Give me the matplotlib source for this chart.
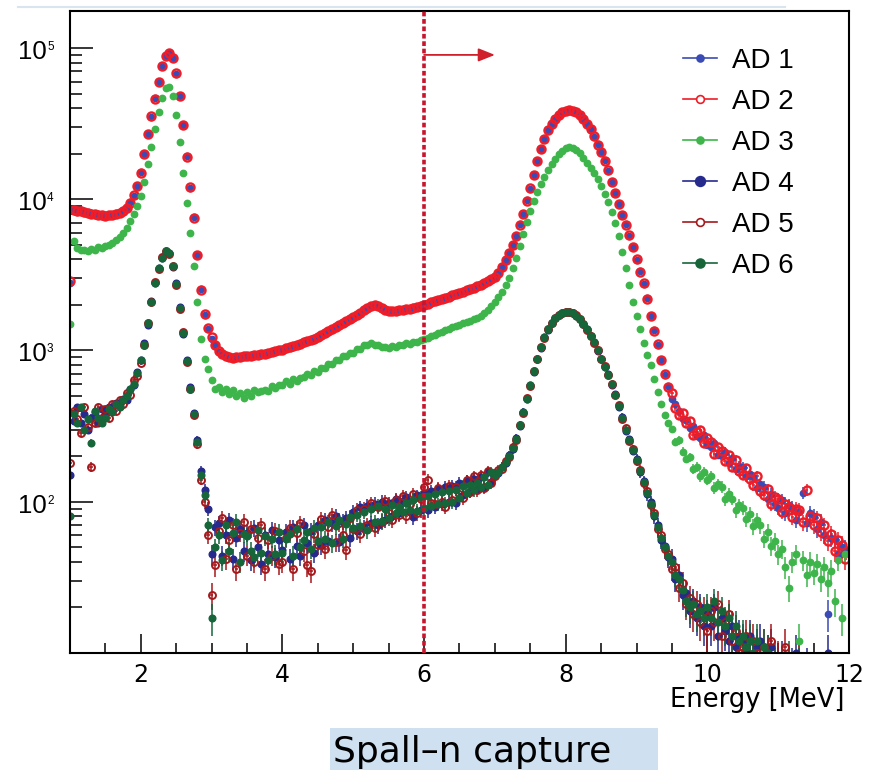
import numpy as np
import matplotlib
matplotlib.use("Agg")
import matplotlib.pyplot as plt
import matplotlib.transforms as mtransforms
from matplotlib.lines import Line2D
from matplotlib.patches import Rectangle
from matplotlib.ticker import FixedLocator, MultipleLocator, LogLocator, NullFormatter

# 0.05 MeV bins from 1 to 12 MeV
bin_width = 0.05
energy = np.round(1.0 + bin_width * np.arange(220), 3)

# counts per bin, one row per 0.5 MeV
ad1 = [
    2800, 8600, 8250, 8480, 8120, 8200, 8060, 7900, 7960, 7800,
    7760, 7900, 7870, 8050, 8100, 8450, 8750, 9550, 10500, 12300,
    15200, 19800, 27200, 35000, 46500, 59500, 76500, 88500, 92500, 86500,
    67500, 48500, 30800, 19200, 11900, 7600, 4250, 2550, 1720, 1380,
    1200, 1090, 980, 950, 915, 910, 890, 905, 900, 920,
    915, 930, 930, 945, 945, 960, 960, 980, 980, 1005,
    1010, 1040, 1045, 1075, 1085, 1115, 1125, 1155, 1170, 1205,
    1225, 1265, 1295, 1345, 1375, 1425, 1465, 1525, 1565, 1625,
    1665, 1725, 1775, 1855, 1915, 1975, 1985, 1965, 1895, 1865,
    1825, 1825, 1825, 1845, 1845, 1875, 1885, 1925, 1945, 1985,
    2005, 2045, 2075, 2115, 2145, 2195, 2225, 2275, 2305, 2355,
    2395, 2455, 2495, 2555, 2595, 2665, 2715, 2795, 2865, 2965,
    3040, 3260, 3540, 3960, 4390, 5010, 5690, 6810, 7990, 9810,
    11750, 14550, 17950, 21550, 24950, 28550, 31450, 34050, 35950, 37550,
    38450, 39050, 38450, 37550, 35950, 34050, 31450, 29050, 25950, 23050,
    20450, 18050, 15450, 13050, 10950, 9350, 7850, 6850, 5750, 4850,
    3960, 3340, 2770, 2230, 1680, 1370, 1090, 870, 690, 580,
    478, 442, 401, 352, 349, 305, 315, 273, 262, 277,
    238, 231, 244, 205, 202, 214, 180, 194, 164, 172,
    170, 147, 153, 146, 124, 131, 125, 104, 113, 96,
    91, 103, 84, 95, 91, 76, 86, 115, 72, 84,
    81, 66, 74, 60, 18, 58, 57, 45, 50, 49,
]
ad2 = [
    2900, 8500, 8350, 8400, 8200, 8150, 8000, 7950, 7900, 7850,
    7800, 7850, 7900, 8000, 8150, 8400, 8800, 9500, 10600, 12200,
    15000, 20000, 27000, 35500, 46000, 60000, 76000, 89000, 93000, 86000,
    68000, 48000, 31000, 19000, 12000, 7500, 4300, 2500, 1750, 1400,
    1220, 1080, 990, 945, 920, 905, 895, 900, 905, 915,
    920, 925, 935, 940, 950, 955, 965, 975, 985, 1000,
    1015, 1035, 1050, 1070, 1090, 1110, 1130, 1150, 1175, 1200,
    1230, 1260, 1300, 1340, 1380, 1420, 1470, 1520, 1570, 1620,
    1670, 1720, 1780, 1850, 1920, 1970, 1990, 1960, 1900, 1860,
    1830, 1820, 1830, 1840, 1850, 1870, 1890, 1920, 1950, 1980,
    2010, 2040, 2080, 2110, 2150, 2190, 2230, 2270, 2310, 2350,
    2400, 2450, 2500, 2550, 2600, 2660, 2720, 2790, 2870, 2960,
    3050, 3250, 3550, 3950, 4400, 5000, 5700, 6800, 8000, 9800,
    11800, 14500, 18000, 21500, 25000, 28500, 31500, 34000, 36000, 37500,
    38500, 39000, 38500, 37500, 36000, 34000, 31500, 29000, 26000, 23000,
    20500, 18000, 15500, 13000, 11000, 9300, 7900, 6800, 5800, 4800,
    4000, 3300, 2800, 2200, 1700, 1350, 1100, 860, 700, 570,
    520, 418, 372, 388, 331, 341, 276, 291, 296, 243,
    262, 247, 208, 230, 215, 186, 203, 171, 189, 160,
    151, 166, 141, 129, 148, 118, 111, 121, 97, 108,
    104, 86, 97, 93, 79, 90, 88, 73, 120, 80,
    70, 78, 63, 70, 55, 61, 47, 56, 52, 42,
]
ad3 = [
    1500, 5300, 4750, 4600, 4650, 4550, 4700, 4650, 4800, 4750,
    4900, 5000, 5150, 5350, 5600, 6000, 6500, 7200, 8000, 9000,
    10500, 13000, 17000, 22000, 29000, 38000, 47000, 54000, 55000, 48000,
    36000, 24000, 15000, 9500, 6000, 3600, 2100, 1200, 880, 750,
    640, 560, 572, 528, 556, 512, 548, 498, 526, 488,
    531, 497, 544, 528, 541, 552, 538, 581, 566, 588,
    588, 627, 598, 648, 632, 655, 664, 703, 688, 731,
    722, 771, 768, 812, 811, 866, 860, 913, 921, 968,
    968, 1025, 1030, 1085, 1090, 1122, 1092, 1088, 1048, 1062,
    1040, 1072, 1062, 1091, 1085, 1117, 1110, 1146, 1141, 1178,
    1190, 1210, 1240, 1270, 1300, 1330, 1360, 1390, 1420, 1450,
    1480, 1510, 1540, 1570, 1610, 1650, 1700, 1770, 1850, 1960,
    2100, 2250, 2450, 2700, 3000, 3500, 4100, 4900, 5900, 7100,
    8300, 9700, 11200, 12600, 14000, 15500, 17000, 18500, 19800, 20900,
    21700, 22100, 21900, 21200, 20100, 18800, 17400, 16200, 15000, 13700,
    12300, 10900, 9600, 8200, 7000, 5700, 4500, 3500, 2700, 2100,
    1700, 1380, 1120, 940, 800, 650, 530, 440, 375, 330,
    301, 249, 255, 214, 193, 197, 165, 170, 148, 158,
    140, 148, 124, 131, 125, 104, 113, 105, 88, 95,
    91, 77, 83, 69, 76, 70, 57, 63, 51, 55,
    45, 49, 37, 27, 40, 45, 12, 41, 33, 40,
    34, 39, 31, 37, 29, 35, 22, 41, 17, 45,
]
ad4 = [
    150, 340, 420, 330, 380, 300, 360, 390, 330, 410,
    380, 420, 400, 450, 430, 480, 470, 560, 590, 720,
    860, 1120, 1480, 2120, 2780, 3520, 4080, 4480, 4420, 3580,
    2780, 1930, 1290, 860, 570, 385, 255, 160, 120, 90,
    45, 68, 72, 44, 60, 76, 42, 58, 66, 47,
    62, 41, 67, 50, 39, 60, 45, 65, 43, 56,
    48, 63, 42, 68, 51, 44, 70, 53, 64, 46,
    70, 52, 76, 55, 72, 80, 54, 74, 78, 58,
    86, 64, 92, 68, 94, 72, 97, 70, 100, 76,
    98, 80, 104, 84, 101, 108, 86, 79, 110, 88,
    115, 88, 118, 92, 122, 97, 126, 100, 128, 98,
    134, 110, 138, 116, 142, 121, 146, 125, 158, 136,
    152, 156, 171, 180, 203, 222, 263, 316, 394, 476,
    595, 725, 885, 1045, 1225, 1375, 1525, 1635, 1725, 1765,
    1805, 1795, 1775, 1695, 1615, 1495, 1385, 1245, 1135, 995,
    885, 775, 695, 595, 515, 425, 365, 295, 258, 217,
    193, 157, 137, 112, 99, 80, 70, 56, 51, 43,
    42, 31, 33, 24, 25, 19, 22, 17, 20, 15,
    18, 15, 20, 13, 17, 14, 12, 15, 11, 13,
    12, 10, 13, 9, 11, 12, 8, 10, 11, 7,
    8, 9, 7, 6, 8, 10, 7, 5, 8, 6,
    5, 7, 4, 6, 10, 5, 4, 6, 5, 4,
]
ad5 = [
    180, 400, 350, 285, 420, 310, 170, 330, 420, 360,
    410, 360, 440, 400, 470, 440, 520, 510, 640, 680,
    830, 1090, 1530, 2080, 2830, 3470, 4130, 4530, 4370, 3630,
    2720, 1880, 1320, 840, 555, 372, 240, 140, 100, 60,
    24, 38, 64, 78, 42, 56, 70, 36, 62, 74,
    44, 66, 40, 58, 70, 36, 56, 44, 64, 39,
    40, 58, 67, 36, 62, 72, 47, 38, 35, 61,
    52, 77, 49, 68, 82, 54, 72, 60, 48, 78,
    66, 88, 61, 90, 70, 98, 67, 92, 74, 101,
    84, 76, 103, 82, 109, 80, 96, 112, 84, 104,
    125, 140, 98, 96, 124, 99, 93, 127, 102, 126,
    112, 106, 139, 116, 147, 119, 151, 124, 160, 133,
    148, 161, 165, 185, 197, 229, 256, 324, 386, 485,
    585, 735, 875, 1055, 1215, 1385, 1515, 1645, 1715, 1775,
    1795, 1805, 1765, 1705, 1605, 1505, 1375, 1255, 1125, 1005,
    875, 785, 685, 605, 505, 435, 355, 305, 252, 223,
    187, 163, 133, 118, 95, 84, 66, 60, 49, 45,
    36, 37, 27, 29, 21, 23, 18, 21, 16, 19,
    14, 19, 16, 21, 13, 16, 18, 12, 14, 10,
    11, 13, 9, 12, 10, 8, 11, 9, 12, 8,
    9, 7, 11, 8, 6, 7, 9, 6, 7, 5,
    6, 4, 5, 7, 4, 6, 5, 3, 5, 4,
]
ad6 = [
    80, 380, 330, 420, 300, 350, 245, 400, 360, 330,
    360, 410, 390, 440, 420, 470, 500, 560, 600, 710,
    870, 1080, 1510, 2090, 2810, 3490, 4110, 4520, 4400, 3610,
    2750, 1910, 1300, 850, 560, 380, 250, 150, 110, 70,
    17, 50, 60, 41, 70, 47, 62, 74, 40, 61,
    59, 47, 43, 65, 46, 59, 41, 57, 45, 63,
    46, 57, 61, 44, 66, 50, 56, 63, 49, 67,
    55, 68, 57, 73, 53, 69, 76, 57, 71, 79,
    67, 82, 69, 86, 65, 89, 73, 94, 75, 90,
    78, 95, 84, 93, 86, 98, 88, 102, 87, 107,
    91, 109, 94, 113, 96, 116, 98, 118, 100, 120,
    106, 128, 114, 129, 119, 133, 125, 146, 130, 158,
    151, 158, 169, 183, 200, 225, 260, 320, 390, 480,
    590, 730, 880, 1050, 1220, 1380, 1520, 1640, 1720, 1770,
    1800, 1800, 1770, 1700, 1610, 1500, 1380, 1250, 1130, 1000,
    880, 780, 690, 600, 510, 430, 360, 300, 255, 220,
    190, 160, 135, 115, 97, 82, 68, 58, 50, 44,
    40, 33, 31, 26, 22, 20, 21, 18, 19, 17,
    20, 17, 22, 16, 19, 15, 17, 13, 15, 12,
    13, 11, 12, 10, 12, 9, 11, 10, 8, 9,
    7, 8, 6, 9, 7, 6, 8, 7, 5, 6,
    5, 4, 6, 5, 3, 5, 4, 6, 4, 3,
]

labels = ["AD 1", "AD 2", "AD 3", "AD 4", "AD 5", "AD 6"]
colors = ["#3b4bb5", "#ee1d27", "#3db54a", "#262a8c", "#a5191d", "#16663a"]
hollow = [False, True, False, False, True, False]
marker_size = [4.5, 5.8, 4.6, 4.8, 5.0, 4.8]
ring_width = [1.0, 1.7, 1.0, 1.0, 1.4, 1.0]
legend_marker_size = [5.0, 5.6, 5.0, 7.0, 5.6, 6.4]

x_ticks = [2, 4, 6, 8, 10, 12]
x_tick_labels = ["2", "4", "6", "8", "10", "12"]
decades = [2, 3, 4, 5]

sans = ["Liberation Sans", "DejaVu Sans"]
narrow = ["Liberation Sans Narrow", "Liberation Sans", "DejaVu Sans"]
plt.rcParams["font.family"] = sans

W, H = 877, 770
fig = plt.figure(figsize=(W / 100, H / 100), dpi=100)
ax = fig.add_axes([70 / W, 1 - 653 / H, 779 / W, 642 / H])

series = [ad1, ad2, ad3, ad4, ad5, ad6]
for counts, c, hol, ms, mw in zip(series, colors, hollow, marker_size, ring_width):
    y = np.asarray(counts, dtype=float)
    assert len(y) == len(energy)
    ax.errorbar(energy, y, yerr=np.sqrt(y), xerr=bin_width / 2, fmt="o",
                ms=ms, color=c, mec=c, mfc="none" if hol else c, mew=mw,
                elinewidth=1.1, capsize=0, zorder=2)

ax.set_yscale("log")
ax.set_xlim(1, 12)
ax.set_ylim(10, 1.756e5)

# dashed cut at 6 MeV with an arrow pointing to the selected region
ax.axvline(6.0, color="#c8142c", lw=2.6, ls=(0, (1.3, 0.75)), zorder=5)
ax.annotate("", xy=(7.0, 9.0e4), xytext=(6.0, 9.0e4),
            arrowprops=dict(arrowstyle="-|>,head_length=1.0,head_width=0.4",
                            color="#d0202c", lw=1.3, shrinkA=0, shrinkB=0),
            zorder=6)

for s in ax.spines.values():
    s.set_linewidth(1.5)

ax.xaxis.set_major_locator(FixedLocator(x_ticks))
ax.xaxis.set_minor_locator(MultipleLocator(0.5))
ax.set_xticklabels(x_tick_labels, fontsize=17, family="DejaVu Sans")
ax.tick_params(axis="x", which="major", direction="in", length=14, width=1.1, pad=7)
ax.tick_params(axis="x", which="minor", direction="in", length=7, width=1.1)

ax.yaxis.set_major_locator(LogLocator(base=10, numticks=10))
ax.yaxis.set_minor_locator(LogLocator(base=10, subs=np.arange(2, 10), numticks=20))
ax.yaxis.set_major_formatter(NullFormatter())
ax.yaxis.set_minor_formatter(NullFormatter())
ax.tick_params(axis="y", which="major", direction="in", length=16.5, width=1.1)
ax.tick_params(axis="y", which="minor", direction="in", length=8.5, width=1.1)

# power-of-ten labels drawn by hand, small exponent next to the top of "10"
ylab = mtransforms.blended_transform_factory(ax.transAxes, ax.transData)
for d in decades:
    t_base = mtransforms.offset_copy(ylab, fig=fig, x=0, y=-11, units="dots")
    t_exp = mtransforms.offset_copy(ylab, fig=fig, x=0, y=-2, units="dots")
    ax.text(-0.0295, 10.0 ** d, "10", transform=t_base, ha="right",
            va="baseline", fontsize=18.5, family=narrow)
    ax.text(-0.0295, 10.0 ** d, str(d), transform=t_exp, ha="left",
            va="baseline", fontsize=8.5, family=narrow)

handles = [
    Line2D([], [], color=c, lw=1.2, marker="o", ms=ml, mec=c,
           mfc="white" if hol else c, mew=1.2)
    for c, hol, ml in zip(colors, hollow, legend_marker_size)
]
ax.legend(handles, labels, loc="upper left", bbox_to_anchor=(0.787, 0.943),
          frameon=False, fontsize=20, handlelength=1.22, handletextpad=0.54,
          labelspacing=0.54, borderpad=0, borderaxespad=0)

fig.text(845 / W, 1 - 707 / H, "Energy [MeV]", ha="right", va="baseline",
         fontsize=18.5, family="DejaVu Sans")

# caption box under the plot
fig.add_artist(Rectangle((330 / W, 0), 328 / W, 42 / H, transform=fig.transFigure,
                         facecolor="#cfe0f1", edgecolor="none"))
fig.text(333 / W, 1 - 762 / H, "Spall\u2013n capture", ha="left", va="baseline",
         fontsize=26, family="DejaVu Sans")

fig.add_artist(Line2D([18 / W, 785 / W], [1 - 7 / H, 1 - 7 / H],
                      transform=fig.transFigure, color="#d9e4f1", lw=1.5))

fig.savefig("out.png", dpi=100)
